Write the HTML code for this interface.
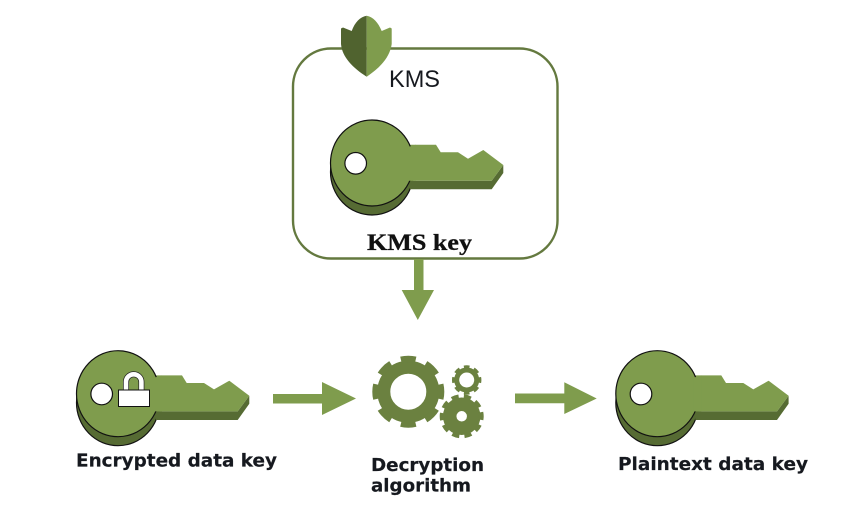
<!DOCTYPE html>
<html>
<head>
<meta charset="utf-8">
<style>
html,body{margin:0;padding:0;background:#fff}
svg{display:block}
</style>
</head>
<body>
<svg width="858" height="519" viewBox="0 0 858 519" xmlns="http://www.w3.org/2000/svg">
<defs>
<g id="key">
  <ellipse cx="0" cy="9" rx="41.5" ry="43" fill="#566b33" stroke="#111" stroke-width="1.2"/>
  <polygon points="36,0 41,17.7 119.7,17.7 131.3,2 131.3,10 119.7,26.3 38,26.3" fill="#566b33"/>
  <polygon points="38,-18.3 64,-18.3 68.7,-10.7 86,-10.7 96,-4.3 111.3,-13 131.3,2 119.7,17.7 38,17.7" fill="#7f9c4d"/>
  <ellipse cx="0" cy="0" rx="41.5" ry="43" fill="#7f9c4d" stroke="#111" stroke-width="1.2"/>
  <polygon points="36,-16 44,-18.3 44,17.7 36,17.7" fill="#7f9c4d"/>
  <circle cx="-16.3" cy="0.3" r="10.8" fill="#fff" stroke="#111" stroke-width="1.2"/>
</g>
</defs>

<!-- KMS box -->
<rect x="293" y="48.5" width="264.5" height="210" rx="38" ry="38" fill="#fff" stroke="#64793f" stroke-width="2.4"/>

<!-- shield -->
<path d="M366.7,15.7 C360,17 355,22 351.7,31 L343,27.5 L341,28.5 L341,44 C342,57 353,68 366.7,76.7 Z" fill="#50632f"/>
<path d="M366.7,15.7 C373,17 378,22 381.7,31 L390,27.5 L391.7,28.5 L391.7,44 C390,57 380,68 366.7,76.7 Z" fill="#7f9c4d"/>

<text x="389" y="87" font-family="'Liberation Sans',sans-serif" font-size="24" fill="#16191f" textLength="51" lengthAdjust="spacingAndGlyphs">KMS</text>

<use href="#key" x="372" y="163"/>

<text x="367" y="250" font-family="'Liberation Serif',serif" font-weight="bold" font-size="23" fill="#111" stroke="#111" stroke-width="0.3" textLength="105" lengthAdjust="spacingAndGlyphs">KMS key</text>

<!-- down arrow -->
<polygon points="414,259 423.5,259 423.5,290 434,290 417.8,320 401.7,290 414,290" fill="#7f9c4d"/>

<!-- encrypted key -->
<use href="#key" x="118" y="393.7"/>
<path d="M126,392 V382 a7.7,7.7 0 0 1 15.4,0 V392" fill="none" stroke="#222" stroke-width="6"/>
<path d="M126,392 V382 a7.7,7.7 0 0 1 15.4,0 V392" fill="none" stroke="#fff" stroke-width="4.6"/>
<rect x="118.5" y="390" width="31" height="16.5" fill="#fff" stroke="#111" stroke-width="1"/>
<text x="76" y="466.5" font-family="'DejaVu Sans',sans-serif" font-weight="bold" font-size="18" fill="#16191f" stroke="#16191f" stroke-width="0.2" textLength="201" lengthAdjust="spacingAndGlyphs">Encrypted data key</text>

<!-- arrow 1 -->
<polygon points="273,394 322,394 322,382 356,398.5 322,415 322,403.5 273,403.5" fill="#7f9c4d"/>

<!-- gears -->
<g fill="none" stroke="#6b8140">
  <circle cx="408.3" cy="391.7" r="24.5" stroke-width="13"/>
  <circle cx="408.3" cy="391.7" r="32.5" stroke-width="7" pathLength="8" stroke-dasharray="0.58 0.42" stroke-dashoffset="0.29"/>
  <circle cx="466.7" cy="380" r="10" stroke-width="5"/>
  <circle cx="466.7" cy="380" r="13" stroke-width="3.4" pathLength="8" stroke-dasharray="0.55 0.45" stroke-dashoffset="0.275"/>
  <circle cx="461.7" cy="416.3" r="12" stroke-width="13.5"/>
  <circle cx="461.7" cy="416.3" r="19.5" stroke-width="5" pathLength="10" stroke-dasharray="0.58 0.42" stroke-dashoffset="0.29"/>
</g>

<text x="371" y="471" font-family="'DejaVu Sans',sans-serif" font-weight="bold" font-size="18" fill="#16191f" stroke="#16191f" stroke-width="0.2" textLength="113" lengthAdjust="spacingAndGlyphs">Decryption</text>
<text x="371" y="491.5" font-family="'DejaVu Sans',sans-serif" font-weight="bold" font-size="18" fill="#16191f" stroke="#16191f" stroke-width="0.2" textLength="100" lengthAdjust="spacingAndGlyphs">algorithm</text>

<!-- arrow 2 -->
<polygon points="515,393.5 564.3,393.5 564.3,382.3 596.7,398.5 564.3,414 564.3,403.3 515,403.3" fill="#7f9c4d"/>

<!-- plaintext key -->
<use href="#key" x="657.3" y="393.7"/>
<text x="618" y="470" font-family="'DejaVu Sans',sans-serif" font-weight="bold" font-size="18" fill="#16191f" stroke="#16191f" stroke-width="0.2" textLength="190" lengthAdjust="spacingAndGlyphs">Plaintext data key</text>
</svg>
</body>
</html>
